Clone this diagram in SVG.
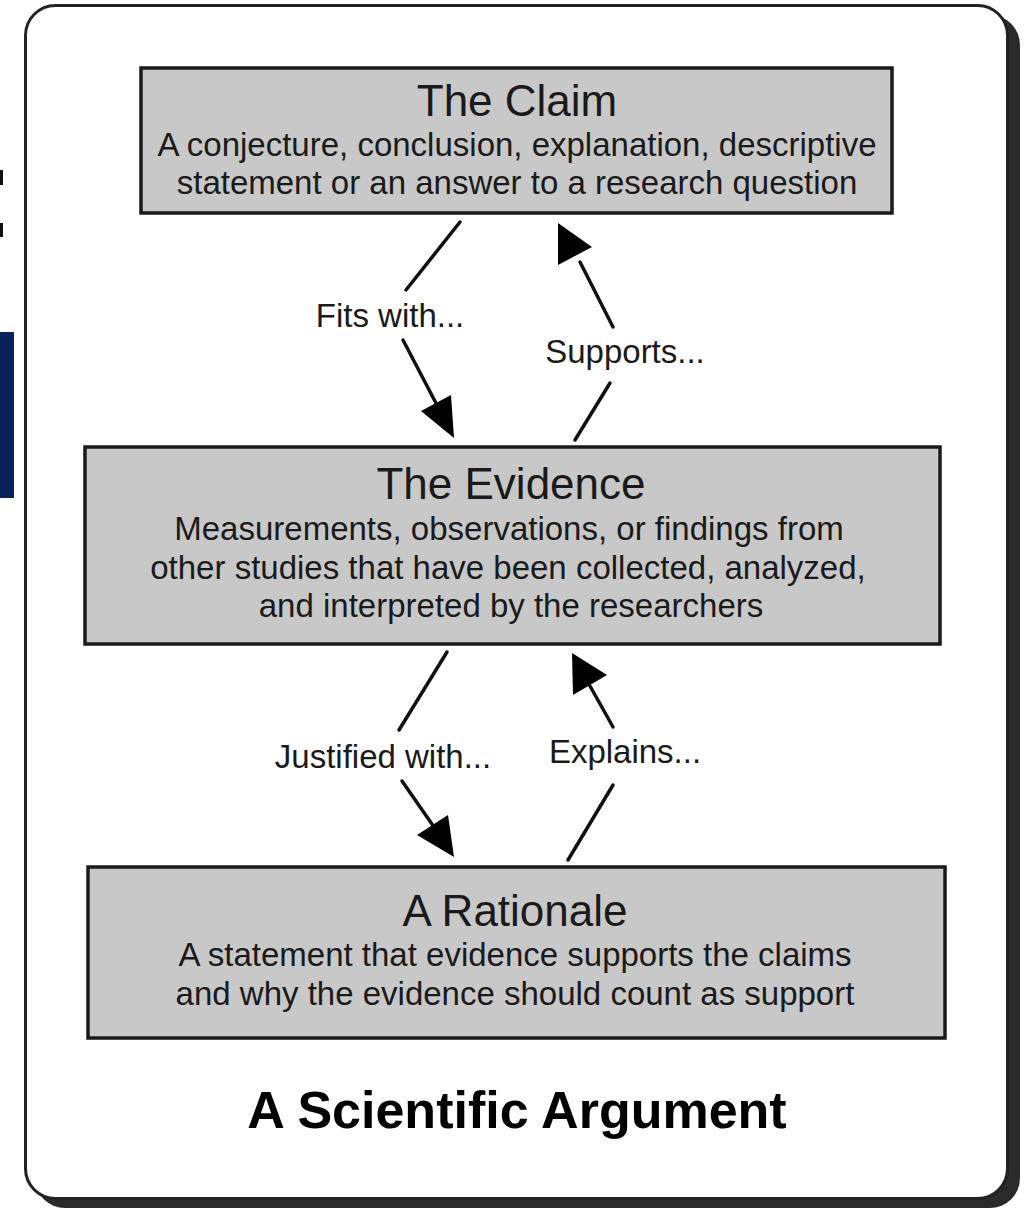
<svg xmlns="http://www.w3.org/2000/svg" width="1030" height="1209" viewBox="0 0 1030 1209">
<style>
.box{fill:#c8c8c8;stroke:#1a1a1a;stroke-width:3.5}
.h{font-family:"Liberation Sans",Arial,sans-serif;font-size:44px;fill:#1a1a1a;text-anchor:middle}
.b{font-family:"Liberation Sans",Arial,sans-serif;font-size:33px;fill:#1a1a1a;text-anchor:middle}
.lbl{font-family:"Liberation Sans",Arial,sans-serif;font-size:33px;fill:#1a1a1a;text-anchor:middle}
.ln{stroke:#111;stroke-width:3.5;fill:none;stroke-linecap:round}
.ah{fill:#000}
.title{font-family:"Liberation Sans",Arial,sans-serif;font-size:52px;font-weight:bold;fill:#000;text-anchor:middle}
</style>
<rect x="0" y="0" width="1030" height="1209" fill="#ffffff"/>
<g id="edge-artifacts">
<rect x="0" y="332" width="14" height="166" fill="#0b215e"/>
<rect x="0" y="170" width="3" height="15" fill="#111"/>
<rect x="0" y="223" width="3" height="14" fill="#111"/>
</g>
<g id="frame">
<rect x="35" y="15" width="985" height="1193" rx="30" fill="#2a2a2a"/>
<rect x="25.5" y="5.5" width="982" height="1193" rx="30" fill="#ffffff" stroke="#222" stroke-width="3"/>
</g>
<g id="claim">
<rect class="box" x="141" y="68" width="751" height="145"/>
<text class="h" x="517" y="116">The Claim</text>
<text class="b" x="517" y="156">A conjecture, conclusion, explanation, descriptive</text>
<text class="b" x="517" y="194">statement or an answer to a research question</text>
</g>
<g id="evidence">
<rect class="box" x="85" y="447" width="855" height="197"/>
<text class="h" x="511" y="499">The Evidence</text>
<text class="b" x="509" y="540">Measurements, observations, or findings from</text>
<text class="b" x="508" y="579">other studies that have been collected, analyzed,</text>
<text class="b" x="511" y="617">and interpreted by the researchers</text>
</g>
<g id="rationale">
<rect class="box" x="88" y="867" width="857" height="171"/>
<text class="h" x="515" y="926">A Rationale</text>
<text class="b" x="515" y="966">A statement that evidence supports the claims</text>
<text class="b" x="515" y="1005">and why the evidence should count as support</text>
</g>
<g id="connectors">
<line class="ln" x1="460" y1="222" x2="406" y2="290"/>
<line class="ln" x1="403" y1="340" x2="438" y2="407"/>
<polygon class="ah" points="454,438 421,411 451,395"/>
<text class="lbl" x="390" y="327">Fits with...</text>

<line class="ln" x1="613" y1="327" x2="580" y2="262"/>
<polygon class="ah" points="558,223 558,265 592,247"/>
<line class="ln" x1="610" y1="383" x2="575" y2="440"/>
<text class="lbl" x="625" y="363">Supports...</text>

<line class="ln" x1="447" y1="652" x2="399" y2="730"/>
<line class="ln" x1="402" y1="781" x2="434" y2="827"/>
<polygon class="ah" points="454,857 417,835 448,815"/>
<text class="lbl" x="383" y="768">Justified with...</text>

<line class="ln" x1="613" y1="727" x2="590" y2="686"/>
<polygon class="ah" points="572,653 573,695 607,675"/>
<line class="ln" x1="613" y1="785" x2="568" y2="860"/>
<text class="lbl" x="625" y="763">Explains...</text>
</g>
<g id="title">
<text class="title" x="517" y="1128">A Scientific Argument</text>
</g>
</svg>
